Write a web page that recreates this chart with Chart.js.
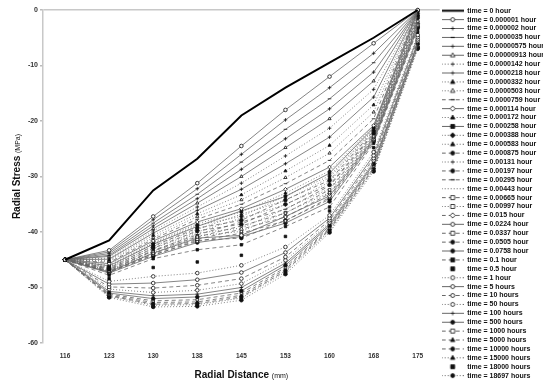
<!DOCTYPE html>
<html>
<head>
<meta charset="utf-8">
<script src="https://cdn.jsdelivr.net/npm/chart.js@4.4.1/dist/chart.umd.min.js"></script>
<style>
  html, body { margin: 0; padding: 0; background: #fff; }
  #wrap { width: 543px; height: 381px; }
</style>
</head>
<body>
<div id="wrap"><canvas id="stressChart" width="543" height="381"></canvas></div>
<script>
// Radial positions (mm)
const radialDistance = ['116', '123', '130', '138', '145', '153', '160', '168', '175'];

const timeLabels = [
    'time = 0 hour', 'time = 0.000001 hour', 'time = 0.000002 hour', 'time = 0.0000035 hour',
    'time = 0.00000575 hour', 'time = 0.00000913 hour', 'time = 0.0000142 hour', 'time = 0.0000218 hour',
    'time = 0.0000332 hour', 'time = 0.0000503 hour', 'time = 0.0000759 hour', 'time = 0.000114 hour',
    'time = 0.000172 hour', 'time = 0.000258 hour', 'time = 0.000388 hour', 'time = 0.000583 hour',
    'time = 0.000875 hour', 'time = 0.00131 hour', 'time = 0.00197 hour', 'time = 0.00295 hour',
    'time = 0.00443 hour', 'time = 0.00665 hour', 'time = 0.00997 hour', 'time = 0.015 hour',
    'time = 0.0224 hour', 'time = 0.0337 hour', 'time = 0.0505 hour', 'time = 0.0758 hour',
    'time = 0.1 hour', 'time = 0.5 hour', 'time = 1 hour', 'time = 5 hours',
    'time = 10 hours', 'time = 50 hours', 'time = 100 hours', 'time = 500 hours',
    'time = 1000 hours', 'time = 5000 hours', 'time = 10000 hours', 'time = 15000 hours',
    'time = 18000 hours', 'time = 18697 hours'
];

// Radial stress (MPa) at each radius, one value per time step (same order as timeLabels)
const r116 = [
    -45,
    -45, -45, -45, -45, -45, -45, -45, -45, -45, -45, -45,
    -45, -45, -45, -45, -45, -45, -45, -45, -45, -45, -45, -45, -45, -45, -45, -45,
    -45, -45, -45, -45, -45, -45, -45, -45, -45, -45, -45, -45, -45, -45
];
const r123 = [
    -41.5,
    -43.3, -43.6, -43.9, -44.2, -44.4, -44.7, -44.9, -45.1, -45.3, -45.5, -45.7,
    -46.0, -46.1, -46.3, -46.4, -46.5, -46.6, -46.7, -46.8, -46.9, -47.0, -47.0, -47.1, -47.2, -47.2, -47.3, -47.4,
    -47.8, -48.4, -48.9, -49.4, -49.9, -50.3, -50.7, -51.0, -51.2, -51.4, -51.5, -51.6, -51.7, -51.8
];
const r130 = [
    -32.5,
    -37.2, -37.8, -38.4, -38.9, -39.4, -39.8, -40.2, -40.6, -41.0, -41.3, -41.6,
    -41.9, -42.2, -42.1, -42.6, -42.5, -43.0, -42.9, -43.3, -43.5, -43.4, -43.8, -43.9, -43.8, -44.1, -44.2, -44.4,
    -44.8, -46.4, -48.0, -49.2, -50.1, -50.9, -51.5, -52.0, -52.4, -52.7, -53.0, -53.2, -53.4, -53.5
];
const r138 = [
    -26.8,
    -31.2, -32.2, -33.2, -34.0, -34.8, -35.5, -36.1, -36.7, -37.2, -37.7, -38.2,
    -38.5, -39.0, -38.8, -39.5, -39.3, -40.0, -39.8, -40.5, -40.2, -40.9, -40.7, -41.3, -41.1, -41.7, -41.5, -41.9,
    -43.2, -45.4, -47.4, -48.6, -49.6, -50.5, -51.2, -51.7, -52.2, -52.6, -52.9, -53.1, -53.3, -53.4
];
const r145 = [
    -19.0,
    -24.5, -26.0, -27.4, -28.7, -30.0, -31.2, -32.3, -33.3, -34.2, -35.0, -35.8,
    -36.4, -36.2, -37.2, -36.8, -37.9, -37.5, -38.6, -38.2, -39.3, -38.9, -39.9, -39.5, -40.6, -40.2, -41.1, -40.8,
    -42.3, -44.2, -46.0, -47.3, -48.4, -49.3, -50.0, -50.6, -51.0, -51.4, -51.7, -51.9, -52.1, -52.3
];
const r153 = [
    -14.0,
    -18.0, -19.8, -21.5, -23.2, -24.8, -26.3, -27.7, -29.0, -30.2, -31.3, -32.3,
    -33.0, -33.6, -33.5, -34.3, -34.2, -35.1, -35.0, -35.9, -35.8, -36.6, -36.5, -37.3, -37.2, -38.0, -37.9, -38.4,
    -39.0, -40.8, -42.7, -43.7, -44.5, -45.1, -45.6, -46.0, -46.4, -46.7, -47.0, -47.2, -47.4, -47.6
];
const r160 = [
    -9.5,
    -12.0, -14.0, -16.0, -17.8, -19.6, -21.3, -22.9, -24.4, -25.8, -27.1, -28.3,
    -29.0, -29.4, -29.9, -30.2, -30.7, -31.0, -31.5, -31.7, -32.2, -32.4, -32.9, -33.1, -33.5, -33.8, -34.1, -34.5,
    -35.5, -36.2, -37.0, -37.5, -37.9, -38.3, -38.6, -38.9, -39.2, -39.4, -39.6, -39.8, -40.0, -40.1
];
const r168 = [
    -5.0,
    -6.0, -7.8, -9.5, -11.2, -12.8, -14.3, -15.7, -17.1, -18.4, -19.6, -20.8,
    -21.0, -21.2, -21.4, -21.6, -21.8, -22.0, -22.2, -22.4, -22.5, -22.7, -22.9, -23.0, -23.2, -23.4, -23.5, -23.7,
    -24.0, -24.8, -25.6, -26.2, -26.7, -27.1, -27.5, -27.8, -28.1, -28.4, -28.6, -28.8, -29.0, -29.1
];
const r175 = [
    0,
    0, 0, 0, 0, 0, 0, 0, 0, 0, 0, 0,
    -0.2, -0.4, -0.6, -0.8, -1.0, -1.2, -1.4, -1.6, -1.8, -2.0, -2.2, -2.4, -2.6, -2.8, -3.0, -3.2,
    -3.5, -4.0, -4.5, -4.9, -5.3, -5.6, -5.9, -6.1, -6.3, -6.5, -6.7, -6.8, -6.9, -7.0
];

const columns = [r116, r123, r130, r138, r145, r153, r160, r168, r175];

// line style per series: dash, marker, filled marker, draw line
const lineDash = { solid: [], dot: [1, 2], dash: [4, 3] };
const seriesStyle = [
    ['solid', 'none', false, true],
    ['solid', 'circle', false, true], ['solid', 'cross', false, true], ['solid', 'line', false, true],
    ['solid', 'cross', false, true], ['solid', 'triangle', false, true], ['dot', 'cross', false, true],
    ['solid', 'cross', false, true], ['dot', 'triangle', true, true], ['dot', 'triangle', false, true],
    ['dash', 'line', false, true], ['solid', 'rectRot', false, true],
    ['dot', 'triangle', true, true], ['solid', 'rect', true, true], ['dot', 'rectRot', true, true],
    ['dot', 'triangle', true, true], ['dash', 'circle', true, true], ['dot', 'cross', false, true],
    ['dash', 'circle', true, true], ['dash', 'line', false, true], ['dot', 'none', false, true],
    ['dash', 'rect', false, true], ['dot', 'rect', false, true], ['dash', 'rectRot', false, true],
    ['solid', 'circle', false, true], ['dash', 'rect', false, true], ['dash', 'circle', true, true],
    ['solid', 'circle', true, true],
    ['dash', 'rect', true, true], ['solid', 'rect', true, false], ['dot', 'circle', false, true],
    ['solid', 'circle', false, true], ['dash', 'circle', false, true], ['dot', 'circle', false, true],
    ['solid', 'cross', false, true], ['solid', 'circle', true, true], ['dash', 'rect', false, true],
    ['dash', 'triangle', true, true], ['dash', 'circle', true, true], ['dot', 'triangle', true, true],
    ['solid', 'rect', true, false], ['dot', 'circle', true, true]
];

const LINE_COLOR = '#666';
const MARK_COLOR = '#111';

// small marker for the legend samples
const drawMarker = (g, style, filled, x, y, r) => {
    g.fillStyle = filled ? MARK_COLOR : '#fff';
    g.strokeStyle = MARK_COLOR;
    g.lineWidth = 0.8;
    g.setLineDash([]);
    g.beginPath();
    if (style === 'circle') {
        g.arc(x, y, r, 0, Math.PI * 2);
    } else if (style === 'rect') {
        g.rect(x - r, y - r, 2 * r, 2 * r);
    } else if (style === 'rectRot') {
        g.moveTo(x, y - r * 1.3); g.lineTo(x + r * 1.3, y); g.lineTo(x, y + r * 1.3); g.lineTo(x - r * 1.3, y); g.closePath();
    } else if (style === 'triangle') {
        g.moveTo(x, y - r * 1.2); g.lineTo(x + r * 1.1, y + r * 0.8); g.lineTo(x - r * 1.1, y + r * 0.8); g.closePath();
    } else if (style === 'cross') {
        g.moveTo(x - r, y); g.lineTo(x + r, y); g.moveTo(x, y - r); g.lineTo(x, y + r);
        g.stroke();
        return;
    } else if (style === 'line') {
        g.moveTo(x - r, y); g.lineTo(x + r, y);
        g.lineWidth = 1.2;
        g.stroke();
        return;
    }
    g.fill();
    g.stroke();
};

const SAMPLE_W = 22;
const legendIcon = (i) => {
    const [dash, marker, filled, hasLine] = seriesStyle[i];
    const c = document.createElement('canvas');
    c.width = SAMPLE_W;
    c.height = 7;
    const g = c.getContext('2d');
    if (hasLine) {
        g.strokeStyle = i === 0 ? '#000' : LINE_COLOR;
        g.lineWidth = i === 0 ? 2 : 1;
        g.setLineDash(lineDash[dash]);
        g.beginPath();
        g.moveTo(0, 3.5);
        g.lineTo(SAMPLE_W, 3.5);
        g.stroke();
    }
    if (marker !== 'none') drawMarker(g, marker, filled, SAMPLE_W / 2, 3.5, 2);
    return c;
};

const datasets = timeLabels.map((label, i) => {
    const [dash, marker, filled, hasLine] = seriesStyle[i];
    return {
        label: label,
        data: columns.map(col => col[i]),
        borderColor: i === 0 ? '#000' : LINE_COLOR,
        borderWidth: i === 0 ? 2 : 0.8,
        borderDash: lineDash[dash],
        showLine: hasLine,
        pointStyle: marker === 'none' ? false : marker,
        pointRadius: marker === 'none' ? 0 : 1.8,
        pointBackgroundColor: filled ? MARK_COLOR : '#fff',
        pointBorderColor: MARK_COLOR,
        pointBorderWidth: 0.8,
        tension: 0,
        clip: 6
    };
});

// axis titles with a smaller unit part
const drawParts = (ctx, parts, cx, cy) => {
    let total = 0;
    parts.forEach(p => { ctx.font = p.font; total += ctx.measureText(p.text).width; });
    let x = cx - total / 2;
    parts.forEach(p => {
        ctx.font = p.font;
        ctx.fillText(p.text, x, cy);
        x += ctx.measureText(p.text).width;
    });
};

const axisTitles = {
    id: 'axisTitles',
    afterDraw(chart) {
        const { ctx, chartArea } = chart;
        ctx.save();
        ctx.fillStyle = '#111';
        ctx.textBaseline = 'alphabetic';
        drawParts(ctx, [
            { text: 'Radial Distance ', font: 'bold 10px "Liberation Sans", Arial' },
            { text: '(mm)', font: '7px "Liberation Sans", Arial' }
        ], (chartArea.left + chartArea.right) / 2, 378);
        ctx.translate(20, (chartArea.top + chartArea.bottom) / 2);
        ctx.rotate(-Math.PI / 2);
        drawParts(ctx, [
            { text: 'Radial Stress ', font: 'bold 10px "Liberation Sans", Arial' },
            { text: '(MPa)', font: '7px "Liberation Sans", Arial' }
        ], 0, 0);
        ctx.restore();
    }
};

const icons = timeLabels.map((_, i) => legendIcon(i));

new Chart(document.getElementById('stressChart').getContext('2d'), {
    type: 'line',
    data: {
        labels: radialDistance,
        datasets: datasets
    },
    options: {
        responsive: false,
        animation: false,
        layout: { padding: { right: -11 } },
        plugins: {
            title: {
                display: true,
                text: '',
                fullSize: false,
                padding: 0,
                font: { size: 10, lineHeight: 1 }
            },
            tooltip: { enabled: false },
            legend: {
                position: 'right',
                align: 'end',
                labels: {
                    usePointStyle: true,
                    pointStyleWidth: SAMPLE_W,
                    padding: 1.9,
                    color: '#111',
                    font: { family: '"Liberation Sans", Arial', size: 7, weight: 'bold' },
                    generateLabels: (chart) => chart.data.datasets.map((ds, i) => ({
                        text: ds.label,
                        pointStyle: icons[i],
                        datasetIndex: i,
                        hidden: false,
                        lineWidth: 0,
                        fontColor: '#111',
                        strokeStyle: 'transparent',
                        fillStyle: 'transparent'
                    }))
                }
            }
        },
        scales: {
            x: {
                offset: true,
                grid: { display: false, drawTicks: false },
                border: { display: false },
                ticks: {
                    color: '#333',
                    padding: 9,
                    font: { family: '"Liberation Sans", Arial', size: 6.5, weight: 'bold' }
                },
                afterFit: (scale) => { scale.height = 38; }
            },
            y: {
                min: -60,
                max: 0,
                ticks: {
                    stepSize: 10,
                    color: '#333',
                    padding: 2,
                    font: { family: '"Liberation Sans", Arial', size: 7, weight: 'bold' }
                },
                grid: {
                    color: (ctx) => ctx.tick && ctx.tick.value === 0 ? '#c8c8c8' : 'transparent',
                    lineWidth: 1.5,
                    tickColor: '#bbb',
                    tickLength: 3
                },
                border: { color: '#c8c8c8', width: 1.5 },
                afterFit: (scale) => { scale.width = 43; }
            }
        }
    },
    plugins: [axisTitles]
});
</script>
</body>
</html>
